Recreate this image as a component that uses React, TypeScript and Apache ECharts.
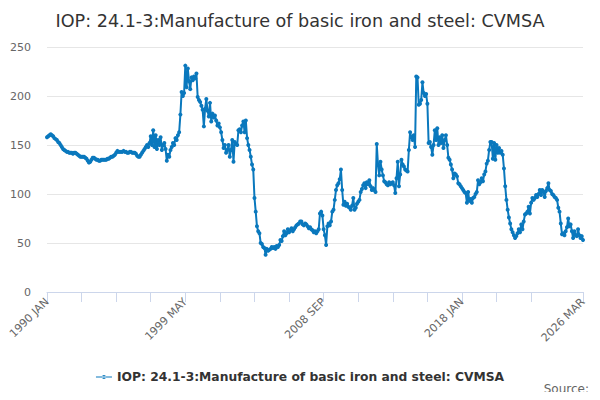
import React, { useEffect, useRef } from 'react';
import * as echarts from 'echarts';

const TITLE = 'IOP: 24.1-3:Manufacture of basic iron and steel: CVMSA';
const MONTHS = ['JAN', 'FEB', 'MAR', 'APR', 'MAY', 'JUN', 'JUL', 'AUG', 'SEP', 'OCT', 'NOV', 'DEC'];
const FIRST_YEAR = 1990;
const LAST_YEAR = 2026;
const LAST_YEAR_MONTHS = 3;

// values, one row per year
const v1990 = [158, 159, 160, 161, 160, 159, 157, 156, 155, 153, 152, 150];
const v1991 = [148, 146, 145, 144, 143, 143, 142, 142, 142, 141, 142, 142];
const v1992 = [141, 140, 139, 138, 138, 138, 138, 137, 136, 134, 132, 133];
const v1993 = [135, 137, 137, 136, 135, 135, 134, 134, 135, 135, 135, 135];
const v1994 = [135, 136, 136, 137, 138, 138, 139, 140, 142, 144, 143, 143];
const v1995 = [143, 143, 144, 143, 143, 142, 142, 143, 143, 142, 142, 142];
const v1996 = [141, 139, 138, 138, 140, 142, 144, 146, 148, 150, 148, 152];
const v1997 = [159, 150, 165, 148, 160, 146, 155, 150, 158, 145, 150, 152];
const v1998 = [146, 134, 140, 138, 145, 148, 152, 150, 157, 155, 160, 163];
const v1999 = [181, 204, 200, 203, 231, 209, 228, 215, 207, 219, 216, 220];
const v2000 = [218, 223, 199, 196, 194, 190, 186, 169, 187, 197, 185, 179];
const v2001 = [193, 174, 182, 178, 180, 175, 170, 172, 168, 163, 155, 147];
const v2002 = [150, 142, 145, 150, 138, 145, 155, 133, 153, 151, 150, 165];
const v2003 = [166, 163, 170, 174, 163, 175, 157, 150, 145, 138, 130, 125];
const v2004 = [96, 82, 67, 62, 60, 50, 49, 46, 45, 38, 44, 42];
const v2005 = [43, 44, 46, 45, 46, 44, 47, 46, 48, 53, 52, 57];
const v2006 = [62, 58, 60, 64, 61, 63, 65, 62, 64, 66, 68, 69];
const v2007 = [70, 72, 72, 69, 68, 70, 69, 67, 65, 66, 64, 63];
const v2008 = [61, 62, 60, 62, 64, 80, 82, 78, 64, 58, 48, 67];
const v2009 = [70, 68, 72, 82, 84, 94, 104, 109, 111, 115, 125, 104];
const v2010 = [89, 92, 88, 90, 87, 86, 84, 88, 96, 84, 86, 90];
const v2011 = [92, 94, 102, 105, 109, 111, 106, 112, 110, 114, 108, 104];
const v2012 = [106, 104, 102, 151, 130, 119, 133, 125, 119, 113, 112, 110];
const v2013 = [109, 112, 110, 111, 112, 109, 101, 116, 133, 108, 120, 135];
const v2014 = [130, 128, 125, 124, 123, 145, 163, 158, 155, 160, 148, 220];
const v2015 = [219, 191, 192, 196, 214, 203, 200, 202, 192, 152, 153, 148];
const v2016 = [140, 150, 165, 155, 167, 150, 158, 152, 160, 147, 155, 160];
const v2017 = [150, 137, 135, 130, 125, 116, 121, 120, 118, 111, 110, 108];
const v2018 = [106, 104, 102, 101, 91, 102, 93, 95, 91, 96, 97, 100];
const v2019 = [102, 114, 110, 112, 116, 113, 120, 123, 131, 134, 145, 153];
const v2020 = [153, 136, 152, 135, 150, 142, 147, 142, 144, 140, 126, 108];
const v2021 = [94, 84, 76, 70, 64, 61, 58, 55, 57, 60, 64, 61];
const v2022 = [69, 64, 72, 79, 80, 82, 87, 80, 91, 96, 94, 96];
const v2023 = [99, 97, 100, 104, 99, 104, 102, 97, 103, 106, 111, 104];
const v2024 = [103, 100, 99, 97, 96, 94, 86, 82, 70, 59, 60, 58];
const v2025 = [62, 66, 75, 67, 69, 62, 55, 62, 58, 57, 64, 58];
const v2026 = [55, 57, 53];

const values = [
  ...v1990, ...v1991, ...v1992, ...v1993, ...v1994, ...v1995, ...v1996, ...v1997,
  ...v1998, ...v1999, ...v2000, ...v2001, ...v2002, ...v2003, ...v2004, ...v2005,
  ...v2006, ...v2007, ...v2008, ...v2009, ...v2010, ...v2011, ...v2012, ...v2013,
  ...v2014, ...v2015, ...v2016, ...v2017, ...v2018, ...v2019, ...v2020, ...v2021,
  ...v2022, ...v2023, ...v2024, ...v2025, ...v2026,
];

const categories: string[] = [];
for (let y = FIRST_YEAR; y <= LAST_YEAR; y++) {
  const n = y === LAST_YEAR ? LAST_YEAR_MONTHS : 12;
  for (let m = 0; m < n; m++) categories.push(`${y} ${MONTHS[m]}`);
}

const FONT = '"DejaVu Sans", sans-serif';
const LINE_COLOR = '#0a78bd';

const App = () => {
  const chartRef = useRef(null);

  useEffect(() => {
    const chartDom = chartRef.current;
    if (!chartDom) return;

    const myChart = echarts.init(chartDom, null, { renderer: 'svg' });
    const last = categories.length - 1;

    const option = {
      animation: false,
      textStyle: { fontFamily: FONT },
      title: {
        text: TITLE,
        left: 'center',
        top: 7,
        textStyle: { fontSize: 17.6, fontWeight: 'normal', color: '#333333', fontFamily: FONT },
      },
      legend: {
        top: 366,
        left: 'center',
        itemWidth: 16,
        itemHeight: 6,
        itemGap: 4,
        textStyle: { fontSize: 12.3, fontWeight: 'bold', color: '#333333', fontFamily: FONT },
        data: [{ name: TITLE, icon: 'path://M0,2.5 L16,2.5 L16,3.5 L0,3.5 Z M6,3 A2,2 0 1 0 10,3 A2,2 0 1 0 6,3 Z' }],
      },
      graphic: [
        {
          type: 'text',
          right: 11,
          top: 383,
          style: { text: 'Source:', fontSize: 12, fill: '#666666', fontFamily: FONT },
        },
      ],
      grid: { left: 47, right: 17, top: 47, bottom: 108 },
      xAxis: {
        type: 'category',
        data: categories,
        boundaryGap: false,
        axisLine: { lineStyle: { color: '#ccd6eb' } },
        axisTick: {
          length: 10,
          lineStyle: { color: '#ccd6eb' },
          interval: (i: number) => (i % 28 === 0 && i !== 420) || i === last,
        },
        axisLabel: {
          rotate: 45,
          color: '#666666',
          fontSize: 11,
          margin: 8,
          interval: (i: number) => i % 112 === 0 || i === last,
        },
        splitLine: { show: false },
      },
      yAxis: {
        type: 'value',
        min: 0,
        max: 250,
        interval: 50,
        axisLabel: { color: '#666666', fontSize: 11, margin: 16 },
        axisLine: { show: false },
        axisTick: { show: false },
        splitLine: { lineStyle: { color: '#e6e6e6' } },
      },
      series: [
        {
          name: TITLE,
          type: 'line',
          data: values,
          symbol: 'circle',
          symbolSize: 4,
          showSymbol: true,
          showAllSymbol: true,
          itemStyle: { color: LINE_COLOR },
          lineStyle: { color: LINE_COLOR, width: 2 },
        },
      ],
    };

    myChart.setOption(option);

    return () => {
      myChart.dispose();
    };
  }, []);

  return <div ref={chartRef} style={{ width: '600px', height: '400px', margin: '-8px' }}></div>;
};

export default App;
